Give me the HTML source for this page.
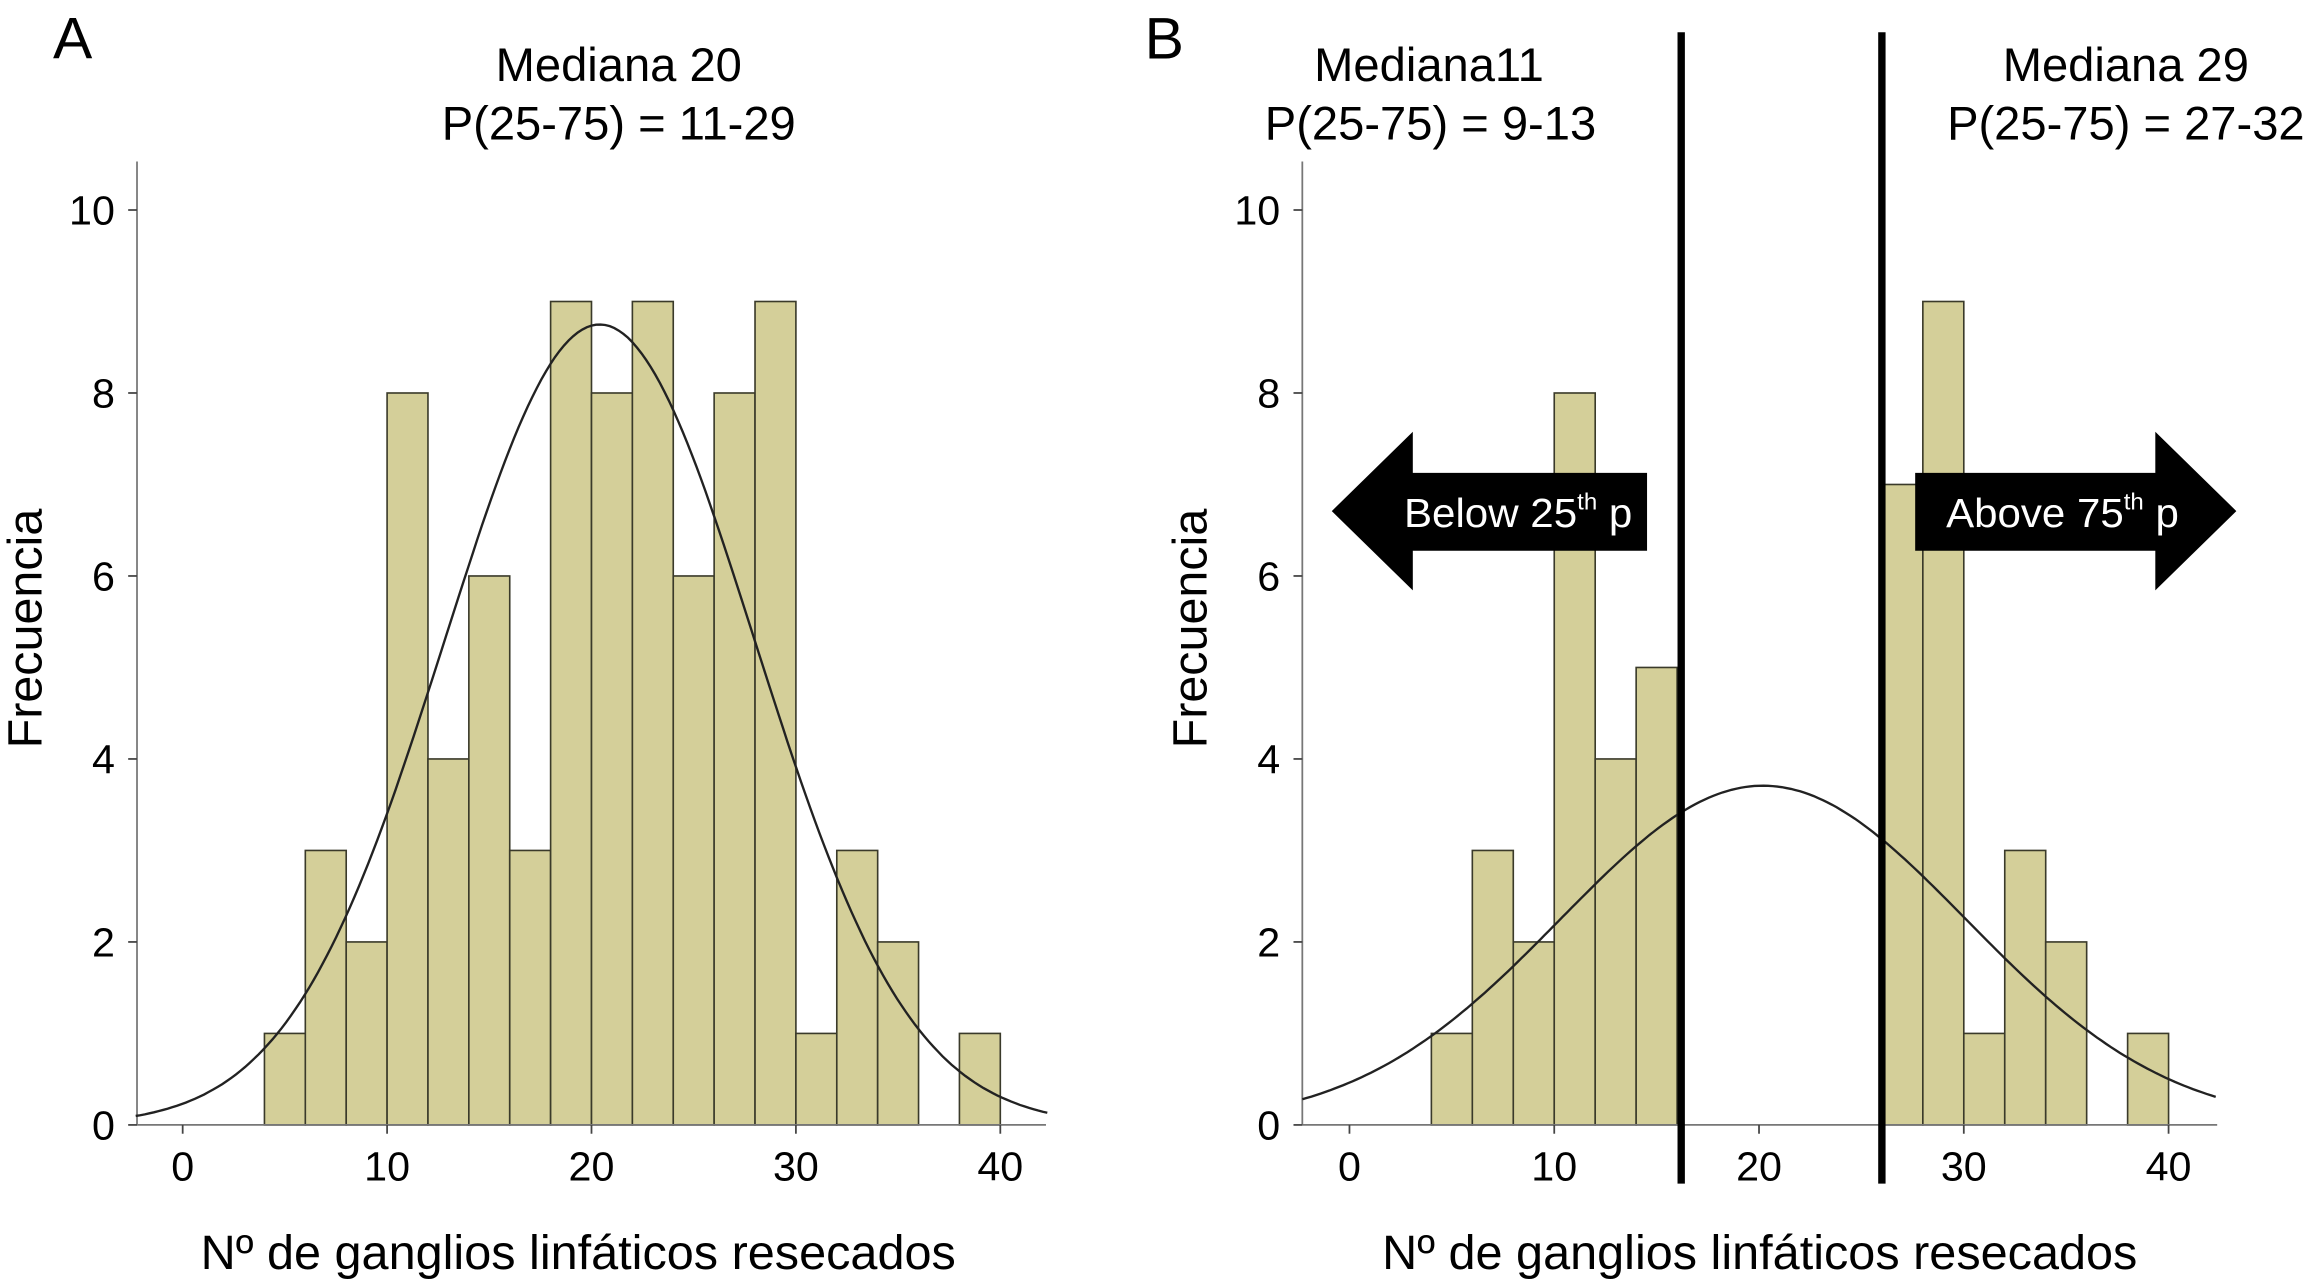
<!DOCTYPE html>
<html><head><meta charset="utf-8"><style>
html,body{margin:0;padding:0;background:#fff;}
svg{display:block;}
text{font-family:"Liberation Sans",Arial,sans-serif;fill:#000;}
</style></head><body>
<svg id="chart" width="2310" height="1285" viewBox="0 0 1568 875" preserveAspectRatio="none" xmlns="http://www.w3.org/2000/svg">
<text x="36" y="40" font-size="40">A</text>
<text x="777" y="40" font-size="40">B</text>
<text x="420" y="55" font-size="32" text-anchor="middle">Mediana 20</text>
<text x="420" y="95" font-size="32" text-anchor="middle">P(25-75) = 11-29</text>
<text x="970" y="55" font-size="32" text-anchor="middle">Mediana11</text>
<text x="971" y="95" font-size="32" text-anchor="middle">P(25-75) = 9-13</text>
<text x="1443" y="55" font-size="32" text-anchor="middle">Mediana 29</text>
<text x="1443" y="95" font-size="32" text-anchor="middle">P(25-75) = 27-32</text>
<g id="pA"></g><g id="pB"></g>
</svg>
<script>
const binStarts = [4,6,8,10,12,14,16,18,20,22,24,26,28,30,32,34,36,38];
const countsA = [1,3,2,8,4,6,3,9,8,9,6,8,9,1,3,2,0,1];
const countsB = [1,3,2,8,4,5,0,0,0,0,0,7,9,1,3,2,0,1];
const binWidth = 2;
const xTicks = [0,10,20,30,40];
const yTicks = [0,2,4,6,8,10];
const curveA = {mean:20.4, sd:7.57, n:83};
const curveB = {mean:20.2, sd:9.9, n:46};
const cutLines = [16.2, 26.0];
const NS="http://www.w3.org/2000/svg";
function mk(tag, attrs, parent){const e=document.createElementNS(NS,tag);for(const k in attrs)e.setAttribute(k,attrs[k]);parent.appendChild(e);return e;}
function panel(g, ax, counts, curve, name){
  const X=v=>ax.x0+v*ax.ux, Y=v=>ax.y0-v*ax.uy;
  const xmin=-2.3, xmax=42.3;
  counts.forEach((c,i)=>{ if(!c) return;
    const r=mk('rect',{x:X(binStarts[i]),y:Y(c),width:binWidth*ax.ux,height:c*ax.uy,fill:'#d4cf99',stroke:'#3a3a2a','stroke-width':1.1},g);
    
    
  });
  const yl=mk('line',{x1:ax.ax,y1:ax.top,x2:ax.ax,y2:ax.y0,stroke:'#777','stroke-width':1.2},g);
  
  
  const xl=mk('line',{x1:ax.ax,y1:ax.y0,x2:ax.right,y2:ax.y0,stroke:'#777','stroke-width':1.2},g);
  
  
  yTicks.forEach(t=>{
    mk('line',{x1:ax.ax-6,y1:Y(t),x2:ax.ax,y2:Y(t),stroke:'#444','stroke-width':1.2},g);
    const tx=mk('text',{x:ax.ax-15,y:Y(t)+10,'font-size':28,'text-anchor':'end'},g);
    tx.textContent=t;
    
    
  });
  xTicks.forEach(t=>{
    mk('line',{x1:X(t),y1:ax.y0,x2:X(t),y2:ax.y0+6,stroke:'#444','stroke-width':1.2},g);
    const tx=mk('text',{x:X(t),y:ax.y0+38,'font-size':28,'text-anchor':'middle'},g);
    tx.textContent=t;
    
    
  });
  let d='';
  for(let i=0;i<=200;i++){const v=xmin+(xmax-xmin)*i/200;const z=(v-curve.mean)/curve.sd;
    const yv=curve.n*binWidth/(curve.sd*Math.sqrt(2*Math.PI))*Math.exp(-z*z/2);
    d+=(i?'L':'M')+X(v).toFixed(1)+','+Y(yv).toFixed(1);}
  const p=mk('path',{d:d,fill:'none',stroke:'#222','stroke-width':1.6},g);
  
  
  const xt=mk('text',{x:(ax.ax+ax.right)/2+ax.xtOff,y:864,'font-size':33,'text-anchor':'middle'},g);
  xt.textContent='Nº de ganglios linfáticos resecados';
  
  
  const yt=mk('text',{x:0,y:0,'font-size':33,'text-anchor':'middle',transform:`translate(${ax.ax-65},428) rotate(-90)`},g);
  yt.textContent='Frecuencia';
  
  
  return {X,Y};
}
const gA=document.getElementById('pA'), gB=document.getElementById('pB');
panel(gA,{ax:93,top:110,right:710,x0:124,ux:13.875,y0:766,uy:62.3,xtOff:-9},countsA,curveA,'panel-a');
const b=panel(gB,{ax:884,top:110,right:1505,x0:916,ux:13.9,y0:766,uy:62.3,xtOff:0},countsB,curveB,'panel-b');
cutLines.forEach((v,i)=>{
  const l=mk('line',{x1:b.X(v),y1:22,x2:b.X(v),y2:806,stroke:'#000','stroke-width':5},gB);
  
  
});
const la=mk('polygon',{points:'904,348 959,294 959,322 1118,322 1118,375 959,375 959,402',fill:'#000'},gB);


const ra=mk('polygon',{points:'1518,348 1463,294 1463,322 1300,322 1300,375 1463,375 1463,402',fill:'#000'},gB);


const t1=mk('text',{x:953,y:359,'font-size':28,'textLength':155,'lengthAdjust':'spacingAndGlyphs',fill:'#fff',style:'fill:#fff'},gB);
t1.innerHTML='Below 25<tspan dy="-12" font-size="16">th</tspan><tspan dy="12"> p</tspan>';


const t2=mk('text',{x:1321,y:359,'font-size':28,'textLength':158,'lengthAdjust':'spacingAndGlyphs',fill:'#fff',style:'fill:#fff'},gB);
t2.innerHTML='Above 75<tspan dy="-12" font-size="16">th</tspan><tspan dy="12"> p</tspan>';


</script>
</body></html>
